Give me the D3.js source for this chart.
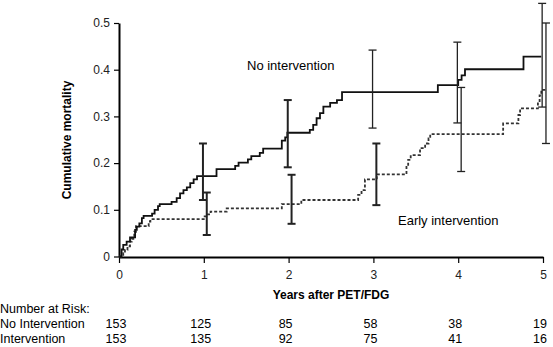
<!DOCTYPE html>
<html>
<head>
<meta charset="utf-8">
<script src="https://cdn.jsdelivr.net/npm/d3@7"></script>
<style>
  body { margin: 0; background: #fff; }
  svg { font-family: "Liberation Sans", Arial, sans-serif; }
</style>
</head>
<body>
<div id="chart"></div>
<script>
// step points (years, cumulative mortality)
var noIntTimes = [0, 0.03, 0.05, 0.09, 0.13, 0.19, 0.21, 0.24, 0.27, 0.29, 0.39, 0.42, 0.46, 0.48,
  0.62, 0.68, 0.72, 0.76, 0.80, 0.84, 0.88, 0.92, 1.15, 1.37, 1.41, 1.52, 1.56, 1.66, 1.70,
  1.92, 1.96, 1.985, 2.25, 2.29, 2.33, 2.37, 2.41, 2.49, 2.57, 2.63, 3.76, 4.0, 4.04, 4.08, 4.77, 4.98];
var noIntValues = [0, 0.015, 0.025, 0.032, 0.041, 0.057, 0.064, 0.071, 0.082, 0.087, 0.092, 0.100, 0.108, 0.112,
  0.117, 0.125, 0.135, 0.142, 0.148, 0.157, 0.165, 0.172, 0.187, 0.194, 0.201, 0.208, 0.215, 0.222, 0.231,
  0.248, 0.255, 0.265, 0.271, 0.282, 0.296, 0.307, 0.321, 0.329, 0.335, 0.352, 0.367, 0.378, 0.388, 0.401, 0.428, 0.428];

var intTimes = [0, 0.05, 0.07, 0.10, 0.13, 0.15, 0.18, 0.20, 0.35, 0.37, 1.01, 1.03, 1.08, 1.27,
  1.92, 2.15, 2.82, 2.86, 2.90, 3.04, 3.39, 3.41, 3.44, 3.55, 3.61, 3.65, 3.67, 4.53, 4.71, 4.73,
  4.94, 4.96, 4.98, 5.03];
var intValues = [0, 0.007, 0.014, 0.022, 0.032, 0.038, 0.053, 0.065, 0.075, 0.080, 0.086, 0.090, 0.096, 0.103,
  0.112, 0.121, 0.132, 0.142, 0.165, 0.176, 0.192, 0.207, 0.217, 0.232, 0.242, 0.253, 0.262, 0.285, 0.303, 0.317,
  0.328, 0.345, 0.357, 0.357];

// confidence intervals at each year
var ciYears = [1, 2, 3, 4, 5];
var noIntLow = [0.121, 0.191, 0.275, 0.286, 0.320];
var noIntHigh = [0.242, 0.335, 0.442, 0.459, 0.542];
var intLow = [0.046, 0.070, 0.110, 0.182, 0.242];
var intHigh = [0.137, 0.175, 0.242, 0.362, 0.500];

var xTicks = [0, 1, 2, 3, 4, 5];
var yTicks = [0, 0.1, 0.2, 0.3, 0.4, 0.5];

var riskRows = ["No Intervention", "Intervention"];
var riskNoInt = [153, 125, 85, 58, 38, 19];
var riskInt = [153, 135, 92, 75, 41, 16];

var width = 553, height = 347;

var svg = d3.select("#chart").append("svg")
    .attr("width", width)
    .attr("height", height);

var x = d3.scaleLinear().domain([0, 5]).range([119, 543]);
var y = d3.scaleLinear().domain([0, 0.5]).range([256.5, 23]);

// axes
var yAxis = svg.append("g")
    .attr("transform", "translate(119,0)")
    .call(d3.axisLeft(y).tickValues(yTicks).tickSize(5).tickSizeOuter(0)
      .tickFormat(function(d) { return d === 0 ? "0" : d3.format(".1f")(d); }));
yAxis.select(".domain").attr("stroke-width", 2);
yAxis.selectAll("text").attr("font-size", 12).attr("fill", "#222").attr("dx", "-1");
yAxis.selectAll("line").attr("stroke-width", 1.2);

var xAxis = svg.append("g")
    .attr("transform", "translate(0,257)")
    .call(d3.axisBottom(x).tickValues(xTicks).tickSize(6).tickSizeOuter(0)
      .tickFormat(d3.format("d")));
xAxis.select(".domain").attr("stroke-width", 2);
xAxis.selectAll("text").attr("font-size", 12).attr("fill", "#222").attr("dy", "1.05em");
xAxis.selectAll("line").attr("stroke-width", 1.2);

svg.append("text")
    .attr("transform", "translate(71,140) rotate(-90)")
    .attr("text-anchor", "middle")
    .attr("font-size", 12)
    .attr("font-weight", "bold")
    .text("Cumulative mortality");

svg.append("text")
    .attr("x", 331).attr("y", 299)
    .attr("text-anchor", "middle")
    .attr("font-size", 12)
    .attr("font-weight", "bold")
    .text("Years after PET/FDG");

// curves
var line = d3.line()
    .x(function(d) { return x(d[0]); })
    .y(function(d) { return y(d[1]); })
    .curve(d3.curveStepAfter);

svg.append("path")
    .datum(d3.zip(intTimes, intValues))
    .attr("fill", "none")
    .attr("stroke", "#333")
    .attr("stroke-width", 1.8)
    .attr("stroke-dasharray", "3,2")
    .attr("d", line);

svg.append("path")
    .datum(d3.zip(noIntTimes, noIntValues))
    .attr("fill", "none")
    .attr("stroke", "#111")
    .attr("stroke-width", 1.8)
    .attr("d", line);

// error bars
function drawBars(lows, highs, offset, widths, color) {
  var g = svg.append("g").attr("stroke", color);
  ciYears.forEach(function(yr, i) {
    var cx = x(yr + offset);
    g.append("line").attr("x1", cx).attr("x2", cx)
      .attr("y1", y(lows[i])).attr("y2", y(highs[i]))
      .attr("stroke-width", widths[i]);
    [lows[i], highs[i]].forEach(function(v) {
      g.append("line").attr("x1", cx - 4).attr("x2", cx + 4)
        .attr("y1", y(v)).attr("y2", y(v))
        .attr("stroke-width", widths[i]);
    });
  });
}
drawBars(noIntLow, noIntHigh, -0.01, [2, 2, 1.3, 1.3, 1.3], "#222");
drawBars(intLow, intHigh, 0.035, [2, 2, 2, 1.3, 1.3], "#222");

svg.append("text")
    .attr("x", 247).attr("y", 70)
    .attr("font-size", 13)
    .text("No intervention");

svg.append("text")
    .attr("x", 398).attr("y", 225)
    .attr("font-size", 13)
    .text("Early intervention");

// number at risk table
svg.append("text")
    .attr("x", 0).attr("y", 313)
    .attr("font-size", 12.5)
    .text("Number at Risk:");

var riskData = [riskNoInt, riskInt];
riskRows.forEach(function(name, r) {
  var rowY = 328 + r * 15;
  svg.append("text")
      .attr("x", 0).attr("y", rowY)
      .attr("font-size", 12.5)
      .text(name);
  svg.append("g").selectAll("text")
      .data(riskData[r])
      .enter().append("text")
      .attr("x", function(d, i) { return x(xTicks[i]) - 3; })
      .attr("y", rowY)
      .attr("text-anchor", "middle")
      .attr("font-size", 12.5)
      .text(function(d) { return d; });
});
</script>
</body>
</html>
